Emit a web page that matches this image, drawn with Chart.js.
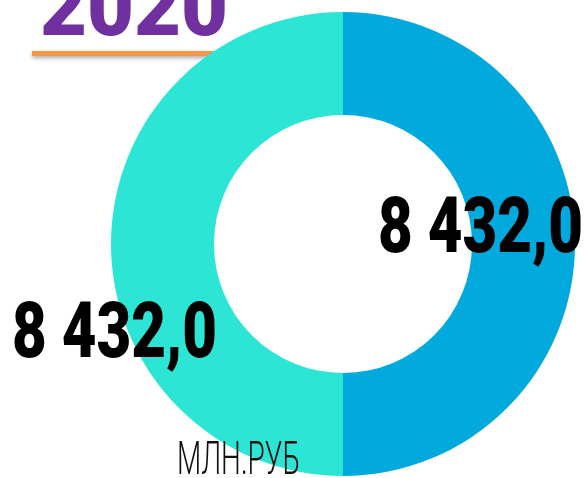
<!DOCTYPE html>
<html>
<head>
    <title>2020</title>
    <script src="https://cdn.jsdelivr.net/npm/chart.js"></script>
    <style>
        body { margin: 0; background: #fff; }
        canvas { display: block; }
    </style>
</head>
<body>
    <canvas id="myChart" width="585" height="478"></canvas>

    <script>
        // data
        const categories = ['Часть 1', 'Часть 2'];
        const values = [8432.0, 8432.0];
        const sliceColors = ['#02A9DD', '#2CE5D4'];
        const yearLabel = '2020';
        const unitLabel = 'МЛН.РУБ';

        const fmt = new Intl.NumberFormat('ru-RU', { minimumFractionDigits: 1, maximumFractionDigits: 1 });

        // draw text squeezed horizontally to fit a given width
        function squeezedText(ctx, text, font, color, x, baseline, width) {
            ctx.save();
            ctx.font = font;
            ctx.fillStyle = color;
            ctx.textBaseline = 'alphabetic';
            ctx.textAlign = 'left';
            const w = ctx.measureText(text).width;
            ctx.translate(x, baseline);
            ctx.scale(width / w, 1);
            ctx.fillText(text, 0, 0);
            ctx.restore();
        }

        const decorPlugin = {
            id: 'decor',
            beforeDatasetsDraw(chart) {
                const ctx = chart.ctx;
                // year title + orange underline (behind the ring)
                squeezedText(ctx, yearLabel, '900 84px Roboto, "Liberation Sans", sans-serif', '#7030A0', 40, 35, 188);
                ctx.save();
                ctx.shadowColor = 'rgba(0,0,0,0.35)';
                ctx.shadowBlur = 4;
                ctx.shadowOffsetY = 2;
                ctx.fillStyle = '#F79646';
                ctx.fillRect(32, 51, 220, 5);
                ctx.restore();
            },
            afterDraw(chart) {
                const ctx = chart.ctx;
                const pos = [{ x: 378, y: 252 }, { x: 12, y: 357 }];
                values.forEach((v, i) => {
                    squeezedText(ctx, fmt.format(v), '900 78px Roboto, "Liberation Sans", sans-serif', '#000', pos[i].x, pos[i].y, 205);
                });
                squeezedText(ctx, unitLabel, '300 46px Roboto, "Liberation Sans", sans-serif', '#111', 177, 474, 123);
            }
        };

        const ctx = document.getElementById('myChart').getContext('2d');
        new Chart(ctx, {
            type: 'doughnut',
            data: {
                labels: categories,
                datasets: [{
                    data: values,
                    backgroundColor: sliceColors,
                    borderWidth: 0
                }]
            },
            options: {
                responsive: false,
                animation: false,
                devicePixelRatio: 1,
                cutout: '55.6%',
                layout: { padding: { left: 111, right: 10, top: 12, bottom: 2 } },
                plugins: {
                    legend: { display: false },
                    tooltip: { enabled: false }
                }
            },
            plugins: [decorPlugin]
        });
    </script>
</body>
</html>
